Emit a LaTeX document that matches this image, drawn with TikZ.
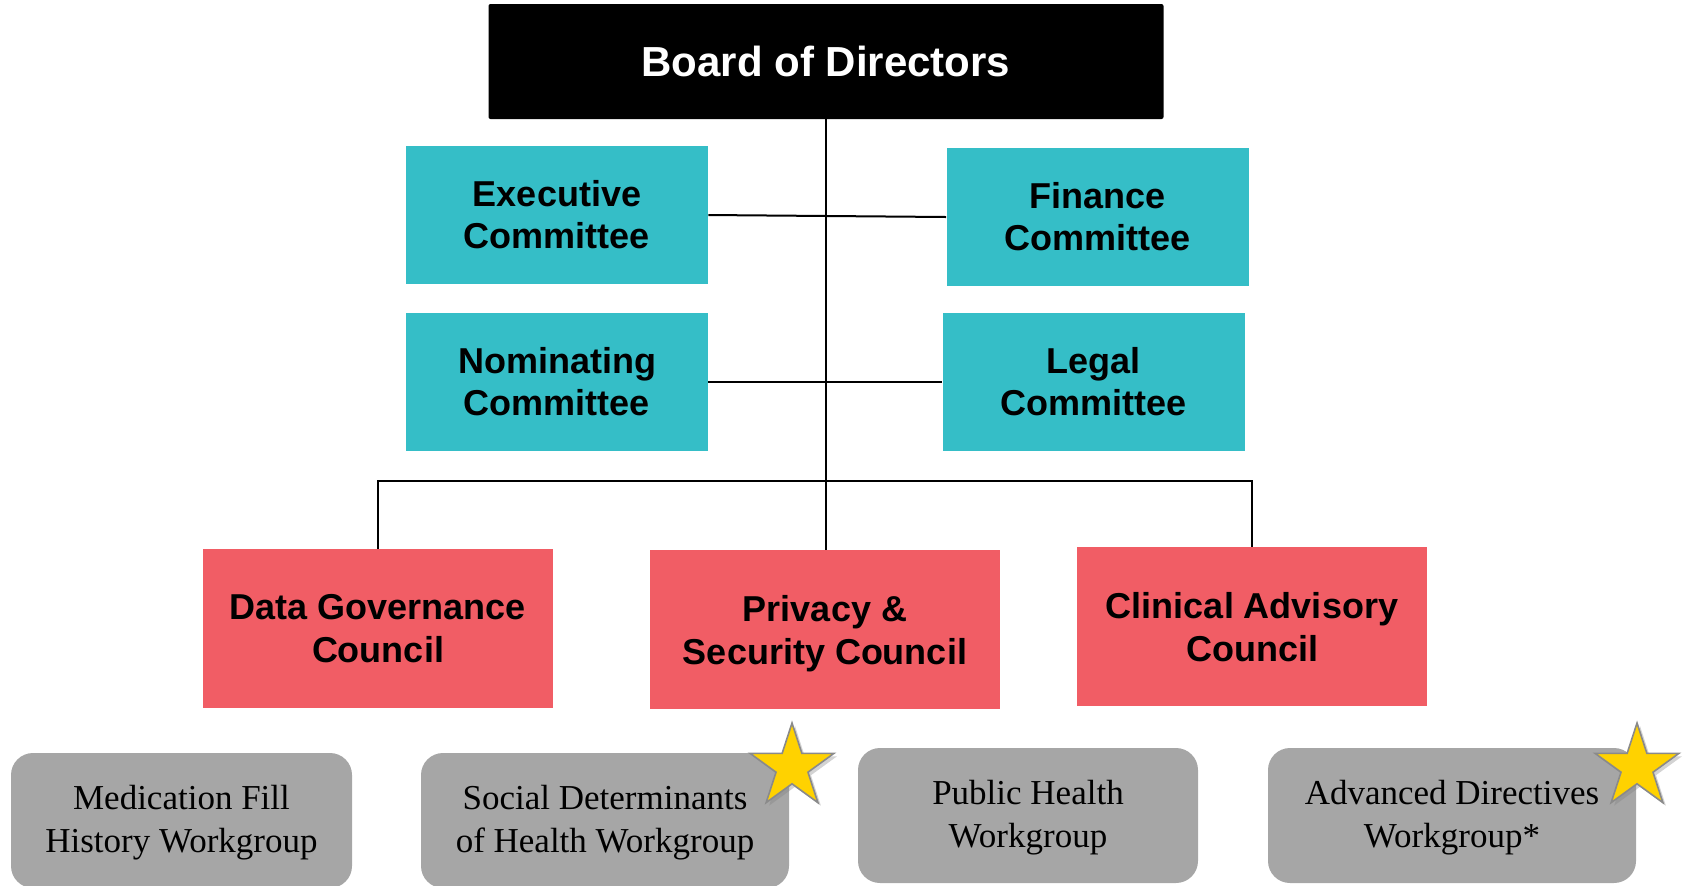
\documentclass[tikz,border=0pt]{standalone}
\usepackage{fontspec}
\setmainfont{Liberation Serif}
\setsansfont{Liberation Sans}
\usetikzlibrary{positioning,shapes.geometric,shadows}
\definecolor{cmteteal}{HTML}{35BEC7}
\definecolor{cnclred}{HTML}{F15D65}
\definecolor{wkgpgray}{HTML}{A6A6A6}
\definecolor{staryellow}{HTML}{FFD200}
\definecolor{stargray}{HTML}{8A8A8A}

\begin{document}
\begin{tikzpicture}[x=0.5pt,y=-0.5pt,
	board/.style={fill=black,text=white,rounded corners=1pt,minimum width=337.5pt,minimum height=57.5pt,
		font=\sffamily\bfseries\fontsize{21}{25}\selectfont},
	cmte/.style={fill=cmteteal,align=center,minimum width=151pt,minimum height=69pt,
		font=\sffamily\bfseries\fontsize{18}{21}\selectfont},
	cncl/.style={fill=cnclred,align=center,minimum width=175pt,minimum height=79.5pt,text depth=0pt,
		font=\sffamily\bfseries\fontsize{18}{21.5}\selectfont},
	wkgp/.style={fill=wkgpgray,rounded corners=11pt,align=center,minimum height=67.5pt,text depth=1.5pt,
		font=\fontsize{17.5}{21.5}\selectfont},
	flag/.style={star,star points=5,star point ratio=2.618,minimum size=44pt,inner sep=0pt,
		fill=staryellow,draw=stargray,line width=0.8pt,
		drop shadow={opacity=0.35,shadow xshift=1.5pt,shadow yshift=-1.5pt}},
	link/.style={draw,line width=1pt}]
\useasboundingbox (0,0) rectangle (1685,885);

\node[board] (bod) at (826,61.5) {Board of Directors};

\node[cmte] (exec) at (557,215) {Executive\\Committee};
\node[cmte] (fin) at (1097.5,217) {Finance\\Committee};
\node[cmte] (nom) at (557,382) {Nominating\\Committee};
\node[cmte] (legal) at (1093.5,382) {Legal\\Committee};

\node[cncl] (dgc) at (378,628.5) {Data Governance\\Council};
\node[cncl] (priv) at (825,629.5) {Privacy \&\\Security Council};
\node[cncl] (clin) at (1252,626.5) {Clinical Advisory\\Council};
\coordinate (bus) at (826,481);

\node[wkgp,minimum width=170.5pt] (med) at (181.5,820.5) {Medication Fill\\History Workgroup};
\node[wkgp,minimum width=184pt] (sdoh) at (605,820.5) {Social Determinants\\of Health Workgroup};
\node[wkgp,minimum width=170pt] (pub) at (1028,815.5) {Public Health\\Workgroup};
\node[wkgp,minimum width=184pt] (adv) at (1452,815.5) {Advanced Directives\\Workgroup*};

\node[flag] (star1) at (792,767) {};
\node[flag] (star2) at (1637,767) {};

\path[link]
(bod.south) edge (bod.south |- priv.north)
(exec.east) edge (fin.west)
(nom.east) edge (legal.west);
\draw[link] (dgc.north) |- (bus) -| (clin.north);
\end{tikzpicture}
\end{document}
